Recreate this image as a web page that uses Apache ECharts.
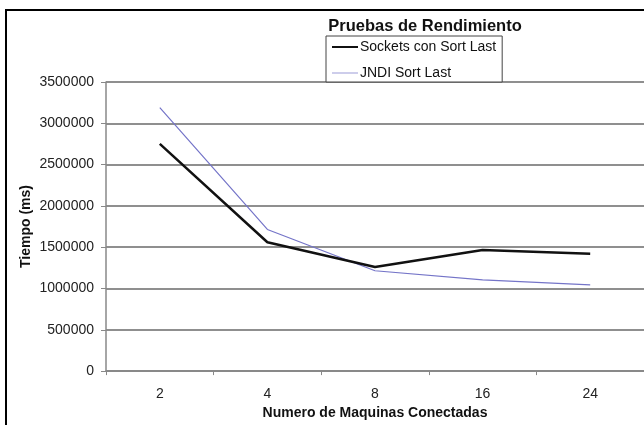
<!DOCTYPE html>
<html>
<head>
<meta charset="utf-8">
<script src="https://cdn.jsdelivr.net/npm/echarts@6/dist/echarts.min.js"></script>
<style>
  html, body { margin: 0; padding: 0; background: #fff; }
  #chart { width: 644px; height: 425px; }
</style>
</head>
<body>
<div id="chart"></div>
<script>
// Machine counts on the x axis
const machines = ['2', '4', '8', '16', '24'];
// Elapsed time in milliseconds per configuration
const socketsSortLast = [2750000, 1560000, 1260000, 1465000, 1420000];
const jndiSortLast = [3190000, 1715000, 1215000, 1105000, 1045000];

const yMin = 0;
const yMax = 3500000;
const yStep = 500000;

const font = 'Liberation Sans, Arial, sans-serif';

const chart = echarts.init(document.getElementById('chart'), null, { renderer: 'canvas' });

chart.setOption({
  backgroundColor: '#ffffff',
  animation: false,
  title: {
    text: 'Pruebas de Rendimiento',
    left: 420,
    textAlign: 'center',
    top: 13,
    textStyle: { fontFamily: font, fontSize: 16.5, fontWeight: 'bold', color: '#111' }
  },
  legend: {
    orient: 'vertical',
    left: 326,
    top: 36,
    padding: [4, 6, 2, 6],
    itemWidth: 26,
    itemHeight: 14,
    itemGap: 12,
    borderColor: '#444',
    borderWidth: 1,
    backgroundColor: '#fff',
    textStyle: { fontFamily: font, fontSize: 14, color: '#111', padding: [0, 0, 0, -3] },
    data: [
      { name: 'Sockets con Sort Last', icon: 'path://M0,6 L26,6 L26,8 L0,8 Z' },
      { name: 'JNDI Sort Last', icon: 'path://M0,6.5 L26,6.5 L26,7.5 L0,7.5 Z' }
    ]
  },
  graphic: [
    {
      type: 'rect',
      shape: { x: 6, y: 10, width: 700, height: 500 },
      style: { fill: 'none', stroke: '#000', lineWidth: 2 },
      z: 100
    }
  ],
  grid: {
    left: 106,
    top: 82,
    width: 544,
    height: 295
  },
  xAxis: {
    type: 'category',
    data: machines,
    boundaryGap: true,
    name: 'Numero de Maquinas Conectadas',
    nameLocation: 'middle',
    nameGap: 28,
    nameTextStyle: { fontFamily: font, fontSize: 14, fontWeight: 'bold', color: '#111' },
    axisLine: { lineStyle: { color: '#888', width: 1.5 } },
    axisTick: { show: true, length: 4, inside: false, lineStyle: { color: '#888' } },
    axisLabel: { margin: 16, fontFamily: font, fontSize: 14, color: '#222' },
    splitLine: { show: false }
  },
  yAxis: {
    type: 'value',
    min: yMin,
    max: yMax,
    interval: yStep,
    name: 'Tiempo (ms)',
    nameLocation: 'middle',
    nameGap: 73,
    nameMoveOverlap: false,
    nameTextStyle: { fontFamily: font, fontSize: 14, fontWeight: 'bold', color: '#111' },
    axisLine: { show: true, lineStyle: { color: '#888', width: 1.5 } },
    axisTick: { show: true, length: 5, lineStyle: { color: '#888' } },
    axisLabel: {
      margin: 12,
      fontFamily: font,
      fontSize: 14,
      color: '#222',
      formatter: (v) => String(v)
    },
    splitLine: { show: true, lineStyle: { color: '#8f8f8f', width: 1.8 } }
  },
  series: [
    {
      name: 'Sockets con Sort Last',
      type: 'line',
      data: socketsSortLast,
      symbol: 'none',
      lineStyle: { color: '#111', width: 2.5 },
      itemStyle: { color: '#111' },
      z: 3
    },
    {
      name: 'JNDI Sort Last',
      type: 'line',
      data: jndiSortLast,
      symbol: 'none',
      lineStyle: { color: '#7474c8', width: 1.2 },
      itemStyle: { color: '#9a9ad6' },
      z: 2
    }
  ]
});
</script>
</body>
</html>
